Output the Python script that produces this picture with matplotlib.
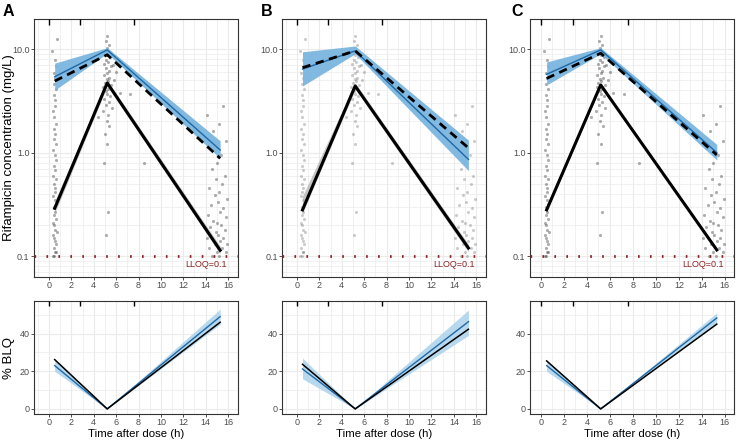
import numpy as np
import matplotlib
matplotlib.use("Agg")
import matplotlib.pyplot as plt
import matplotlib.transforms as mtransforms
from matplotlib.ticker import FixedLocator, NullFormatter

plt.rcParams['font.family'] = ['Liberation Sans', 'DejaVu Sans']

# nominal sampling times (h)
times = [0.5, 5.2, 15.3]
bin_edges = [0.0, 2.8, 7.6]

obs_t1 = [0.32, 0.45, 0.58, 0.50, 0.40, 0.62, 0.55, 0.48, 0.36, 0.68, 0.52, 0.44,
          0.38, 0.60, 0.47, 0.56, 0.42, 0.65, 0.51, 0.34, 0.49, 0.57, 0.46, 0.61,
          0.39, 0.53, 0.43, 0.66, 0.50, 0.37, 0.59, 0.45, 0.54, 0.41, 0.63, 0.48,
          0.35, 0.57, 0.52, 0.44, 0.60, 0.47, 0.55, 0.40, 0.58, 0.50, 0.30, 0.70]
obs_c1 = [0.10, 0.10, 0.11, 0.11, 0.12, 0.13, 0.14, 0.15, 0.16, 0.17, 0.18, 0.20,
          0.21, 0.23, 0.25, 0.27, 0.30, 0.32, 0.35, 0.38, 0.42, 0.46, 0.50, 0.55,
          0.60, 0.68, 0.75, 0.85, 0.95, 1.05, 1.20, 1.35, 1.50, 1.70, 1.90, 2.20,
          2.50, 2.80, 3.20, 3.60, 4.10, 4.60, 5.20, 5.90, 6.80, 7.80, 9.50, 12.5]
obs_t2 = [5.10, 5.30, 4.90, 5.20, 5.00, 5.40, 5.15, 5.25, 4.80, 5.60, 5.05, 5.35,
          4.95, 5.45, 5.20, 5.10, 5.30, 4.85, 5.55, 5.00, 5.25, 5.15, 5.40, 4.90,
          5.20, 5.35, 5.05, 5.50, 4.95, 5.30, 5.10, 5.45, 5.20, 5.00, 5.25, 5.15,
          5.35, 5.05, 5.20, 6.30, 7.20, 5.80, 4.40, 6.00, 5.70, 8.50]
obs_c2 = [0.16, 0.27, 0.80, 1.20, 1.50, 1.80, 2.00, 2.30, 2.50, 2.70, 2.90, 3.10,
          3.30, 3.50, 3.70, 3.90, 4.10, 4.30, 4.50, 4.70, 4.90, 5.10, 5.30, 5.60,
          5.90, 6.20, 6.50, 6.80, 7.10, 7.50, 7.90, 8.30, 8.70, 9.10, 9.60, 10.2,
          11.0, 12.0, 13.5, 3.80, 3.70, 5.00, 2.20, 6.00, 7.00, 0.80]
obs_t3 = [15.2, 14.6, 15.8, 15.0, 14.3, 15.5, 15.9, 14.8, 15.3, 14.1, 15.6, 15.1,
          14.9, 15.7, 14.4, 15.4, 15.0, 14.7, 15.8, 14.2, 15.3, 15.6, 14.5, 15.1,
          15.9, 14.8, 15.2, 14.3, 15.5, 14.9, 15.7, 14.6, 15.0, 15.4, 14.4, 15.8,
          14.7, 15.2, 14.1, 15.6]
obs_c3 = [0.10, 0.10, 0.11, 0.11, 0.12, 0.12, 0.13, 0.13, 0.14, 0.15, 0.15, 0.16,
          0.17, 0.18, 0.19, 0.20, 0.21, 0.22, 0.24, 0.25, 0.27, 0.29, 0.31, 0.33,
          0.36, 0.39, 0.42, 0.46, 0.50, 0.55, 0.60, 0.70, 0.80, 0.95, 1.10, 1.30,
          1.60, 1.90, 2.30, 2.80]

# panel A
a_p95_sim = [5.4, 9.8, 1.06]
a_p95_lo = [4.0, 9.1, 0.88]
a_p95_hi = [7.3, 10.3, 1.30]
a_p95_obs = [4.9, 8.8, 0.88]
a_p50_obs = [0.29, 4.7, 0.114]
a_p50_lo = [0.26, 4.4, 0.105]
a_p50_hi = [0.34, 5.0, 0.125]
a_blq_obs = [26.2, 0, 46.0]
a_blq_sim = [23.0, 0, 49.0]
a_blq_lo = [20.0, 0, 45.0]
a_blq_hi = [26.0, 0, 53.0]

# panel B
b_p95_sim = [6.4, 9.6, 0.86]
b_p95_lo = [4.4, 9.0, 0.67]
b_p95_hi = [9.4, 10.7, 1.32]
b_p95_obs = [6.6, 9.6, 1.11]
b_p50_obs = [0.28, 4.4, 0.12]
b_p50_lo = [0.26, 4.1, 0.11]
b_p50_hi = [0.38, 4.7, 0.13]
b_blq_obs = [23.7, 0, 42.3]
b_blq_sim = [21.2, 0, 46.3]
b_blq_lo = [16.0, 0, 39.0]
b_blq_hi = [27.0, 0, 52.5]

# panel C
c_p95_sim = [5.7, 9.8, 1.0]
c_p95_lo = [4.5, 9.0, 0.85]
c_p95_hi = [7.5, 10.3, 1.2]
c_p95_obs = [5.2, 9.1, 0.95]
c_p50_obs = [0.28, 4.5, 0.115]
c_p50_lo = [0.27, 4.35, 0.11]
c_p50_hi = [0.31, 4.7, 0.12]
c_blq_obs = [25.5, 0, 45.0]
c_blq_sim = [23.0, 0, 48.3]
c_blq_lo = [20.0, 0, 45.5]
c_blq_hi = [25.5, 0, 51.0]

BLUE = '#1f68a6'
BAND = '#7ab6df'
BAND_LIGHT = '#b0d4ec'
GRID = '#ebebeb'
TXT = '#4d4d4d'
LLOQ_COL = '#8b2323'


def style_axes(ax):
    for s in ax.spines.values():
        s.set_color('#333333')
        s.set_linewidth(0.8)
    ax.tick_params(colors='#333333', labelcolor=TXT, labelsize=6.5, length=2.2, width=0.6, pad=1)
    ax.set_xticks(range(0, 17, 2))
    ax.xaxis.set_minor_locator(FixedLocator(range(-1, 18, 2)))
    ax.grid(True, which='major', color=GRID, lw=0.8)
    ax.grid(True, which='minor', color=GRID, lw=0.5)
    ax.tick_params(which='minor', length=0)
    ax.set_axisbelow(True)


def draw_panel(ax, axb, xlim, p95_sim, p95_lo, p95_hi, p95_obs, p50_obs, p50_lo, p50_hi,
               blq_obs, blq_sim, blq_lo, blq_hi, alpha_pts, ylabel):
    style_axes(ax)
    ax.set_yscale('log')
    ax.set_xlim(*xlim)
    ax.set_ylim(0.063, 19.5)
    ax.yaxis.set_major_locator(FixedLocator([0.1, 1, 10]))
    ax.set_yticklabels(['0.1', '1.0', '10.0'])
    minors = [m * 10.0 ** e for e in (-2, -1, 0, 1) for m in range(2, 10)]
    ax.yaxis.set_minor_locator(FixedLocator(minors))
    ax.yaxis.set_minor_formatter(NullFormatter())

    for tt, cc in ((obs_t1, obs_c1), (obs_t2, obs_c2), (obs_t3, obs_c3)):
        ax.scatter(tt, cc, s=5, color='#333333', alpha=alpha_pts, lw=0, zorder=2)

    ax.fill_between(times, p95_lo, p95_hi, color=BAND, alpha=0.95, lw=0, zorder=3)
    ax.plot(times, p95_sim, color=BLUE, lw=1.0, zorder=4)
    ax.plot(times, p95_obs, color='black', lw=2.0, ls=(0, (3, 2)), zorder=5)
    ax.fill_between(times, p50_lo, p50_hi, color='#a0a0a0', alpha=0.6, lw=0, zorder=3)
    ax.plot(times, p50_obs, color='black', lw=2.2, zorder=5)

    ax.axhline(0.1, color=LLOQ_COL, lw=2.0, ls=(0, (0.6, 3.7)), zorder=4)
    ax.text(15.9, 0.084, 'LLOQ=0.1', color=LLOQ_COL, fontsize=6.5, ha='right', va='center')

    trans = mtransforms.blended_transform_factory(ax.transData, ax.transAxes)
    ax.vlines(bin_edges, 0.978, 1.0, transform=trans, color='black', lw=1.0, zorder=6)
    if ylabel:
        ax.set_ylabel('Rifampicin concentration (mg/L)', fontsize=9.5)
        ax.yaxis.set_label_coords(-0.095, 0.5)

    style_axes(axb)
    axb.set_xlim(*xlim)
    axb.set_ylim(-2.7, 57.3)
    axb.set_yticks([0, 20, 40])
    axb.yaxis.set_minor_locator(FixedLocator([10, 30, 50]))
    axb.fill_between(times, blq_lo, blq_hi, color=BAND_LIGHT, alpha=0.9, lw=0, zorder=3)
    axb.plot(times, blq_sim, color=BLUE, lw=1.0, zorder=4)
    axb.plot(times, blq_obs, color='black', lw=1.1, zorder=5)
    transb = mtransforms.blended_transform_factory(axb.transData, axb.transAxes)
    axb.vlines(bin_edges, 0.955, 1.0, transform=transb, color='black', lw=1.0, zorder=6)
    axb.set_xlabel('Time after dose (h)', fontsize=8.2)
    axb.xaxis.set_label_coords(0.5, -0.13)
    if ylabel:
        axb.set_ylabel('% BLQ', fontsize=9.5)
        axb.yaxis.set_label_coords(-0.095, 0.5)


fig = plt.figure(figsize=(7.36, 4.40), dpi=100)
lefts = [0.0462, 0.3836, 0.7201]
w = 0.2772
xlims = [(-1.35, 16.9), (-1.3, 16.9), (-0.95, 16.8)]
panels = [
    (a_p95_sim, a_p95_lo, a_p95_hi, a_p95_obs, a_p50_obs, a_p50_lo, a_p50_hi,
     a_blq_obs, a_blq_sim, a_blq_lo, a_blq_hi, 0.4, True),
    (b_p95_sim, b_p95_lo, b_p95_hi, b_p95_obs, b_p50_obs, b_p50_lo, b_p50_hi,
     b_blq_obs, b_blq_sim, b_blq_lo, b_blq_hi, 0.25, False),
    (c_p95_sim, c_p95_lo, c_p95_hi, c_p95_obs, c_p50_obs, c_p50_lo, c_p50_hi,
     c_blq_obs, c_blq_sim, c_blq_lo, c_blq_hi, 0.4, False),
]
for left, xl, args in zip(lefts, xlims, panels):
    ax = fig.add_axes([left, 0.3705, w, 0.5864])
    axb = fig.add_axes([left, 0.0591, w, 0.2568])
    draw_panel(ax, axb, xl, *args)

for x, lab in zip([0.004, 0.355, 0.695], ['A', 'B', 'C']):
    fig.text(x, 0.99, lab, fontsize=11.5, fontweight='bold', va='top')

fig.savefig('out.png', dpi=100)
